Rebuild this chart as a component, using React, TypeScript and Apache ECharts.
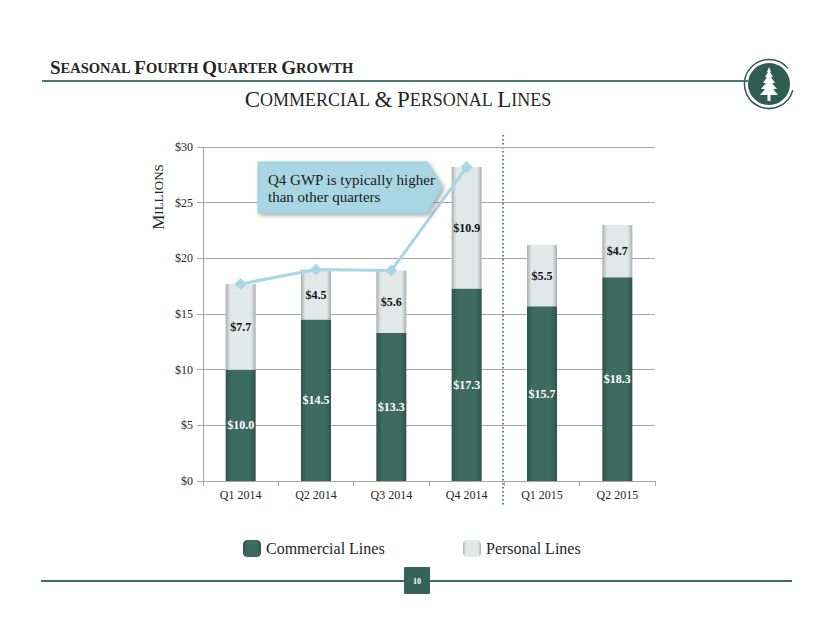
import React, { useEffect, useRef } from "react";
import * as echarts from "echarts";

const categories = ["Q1 2014", "Q2 2014", "Q3 2014", "Q4 2014", "Q1 2015", "Q2 2015"];
const commercialLines = [10.0, 14.5, 13.3, 17.3, 15.7, 18.3];
const personalLines = [7.7, 4.5, 5.6, 10.9, 5.5, 4.7];
const totalLine: (number | string)[] = [17.7, 19.0, 18.9, 28.2, "-", "-"];
const yTicks = { min: 0, max: 30, interval: 5 };

const SERIF = "'Liberation Serif', 'Times New Roman', serif";

function smallCaps(s: string) {
  return s
    .split(" ")
    .map((w) => `{b|${w[0]}}` + (w.length > 1 ? `{s|${w.slice(1)}}` : ""))
    .join("{s| }");
}

export default function App() {
  const ref = useRef<HTMLDivElement>(null);
  useEffect(() => {
    document.body.style.margin = "0";
    const chart = echarts.init(ref.current!, null, { renderer: "svg" });
    const cx = 769, cy = 84;
    const tree = [
      [0, -17], [2, -12], [1, -12], [4, -7], [2, -7], [6, -1], [3, -1], [8, 5], [4, 5], [9, 11],
      [1.5, 11], [1.5, 17], [-1.5, 17], [-1.5, 11], [-9, 11], [-4, 5], [-8, 5], [-3, -1], [-6, -1],
      [-2, -7], [-4, -7], [-1, -12], [-2, -12],
    ].map(([x, y]) => [cx + x, cy + y]);

    chart.setOption({
      animation: false,
      backgroundColor: "#ffffff",
      grid: { left: 203, right: 175, top: 147, bottom: 142, containLabel: false },
      legend: [
        {
          left: 238, top: 535, itemWidth: 18, itemHeight: 17, itemGap: 10,
          data: [{ name: "Commercial Lines", icon: "roundRect" }],
          textStyle: { fontFamily: SERIF, fontSize: 16, color: "#262626" },
          selectedMode: false,
        },
        {
          left: 458, top: 535, itemWidth: 18, itemHeight: 17,
          data: [{ name: "Personal Lines", icon: "roundRect" }],
          textStyle: { fontFamily: SERIF, fontSize: 16, color: "#262626" },
          selectedMode: false,
        },
      ],
      xAxis: {
        type: "category",
        data: categories,
        axisLine: { lineStyle: { color: "#a6a6a6" } },
        axisTick: { show: true, length: 5, lineStyle: { color: "#a6a6a6" } },
        axisLabel: { fontFamily: SERIF, fontSize: 12, color: "#262626", margin: 8 },
      },
      yAxis: {
        type: "value",
        min: yTicks.min,
        max: yTicks.max,
        interval: yTicks.interval,
        axisLine: { show: true, lineStyle: { color: "#a6a6a6" } },
        axisTick: { show: true, length: 6, lineStyle: { color: "#a6a6a6" } },
        splitLine: { lineStyle: { color: "#a6a6a6" } },
        axisLabel: { fontFamily: SERIF, fontSize: 12, color: "#262626", formatter: "${value}", margin: 10 },
      },
      series: [
        {
          name: "Commercial Lines",
          type: "bar",
          stack: "total",
          barWidth: 30,
          data: commercialLines,
          itemStyle: {
            color: new echarts.graphic.LinearGradient(0, 0, 1, 0, [
              { offset: 0, color: "#2c5549" },
              { offset: 0.2, color: "#3d6b5f" },
              { offset: 0.8, color: "#3d6b5f" },
              { offset: 1, color: "#2c5549" },
            ]),
          },
          label: {
            show: true,
            position: "inside",
            formatter: (p: any) => "$" + p.value.toFixed(1),
            fontFamily: SERIF,
            fontWeight: "bold",
            fontSize: 12,
            color: "#ffffff",
          },
        },
        {
          name: "Personal Lines",
          type: "bar",
          stack: "total",
          barWidth: 30,
          data: personalLines,
          itemStyle: {
            color: new echarts.graphic.LinearGradient(0, 0, 1, 0, [
              { offset: 0, color: "#a9afaf" },
              { offset: 0.15, color: "#e2e7e7" },
              { offset: 0.85, color: "#e2e7e7" },
              { offset: 1, color: "#a9afaf" },
            ]),
          },
          label: {
            show: true,
            position: "inside",
            formatter: (p: any) => "$" + p.value.toFixed(1),
            fontFamily: SERIF,
            fontWeight: "bold",
            fontSize: 12,
            color: "#111111",
          },
        },
        {
          name: "Total",
          type: "line",
          data: totalLine,
          symbol: "diamond",
          symbolSize: 12,
          lineStyle: { color: "#a8d6e4", width: 3 },
          itemStyle: { color: "#a8d6e4" },
          z: 5,
        },
      ],
      graphic: [
        {
          type: "text",
          x: 50,
          y: 67.5,
          style: {
            text: smallCaps("SEASONAL FOURTH QUARTER GROWTH"),
            align: "left",
            verticalAlign: "middle",
            rich: {
              b: { fontFamily: SERIF, fontSize: 19, fontWeight: "bold", fill: "#262626" },
              s: { fontFamily: SERIF, fontSize: 14.5, fontWeight: "bold", fill: "#262626" },
            },
          },
        },
        {
          type: "line",
          shape: { x1: 42, y1: 81, x2: 748, y2: 81 },
          style: { stroke: "#4b7a70", lineWidth: 2 },
        },
        {
          type: "text",
          x: 398,
          y: 99.5,
          style: {
            text: smallCaps("COMMERCIAL & PERSONAL LINES"),
            align: "center",
            verticalAlign: "middle",
            rich: {
              b: { fontFamily: SERIF, fontSize: 23, fill: "#262626" },
              s: { fontFamily: SERIF, fontSize: 18, fill: "#262626" },
            },
          },
        },
        {
          type: "text",
          x: 158,
          y: 197,
          rotation: Math.PI / 2,
          style: {
            text: smallCaps("MILLIONS"),
            align: "center",
            verticalAlign: "middle",
            rich: {
              b: { fontFamily: SERIF, fontSize: 17, fill: "#262626" },
              s: { fontFamily: SERIF, fontSize: 13, fill: "#262626" },
            },
          },
        },
        {
          type: "polygon",
          shape: { points: [[258, 162], [427, 162], [442, 187], [427, 213], [258, 213]] },
          style: {
            fill: "#a9d6e3",
            stroke: "#9cc9d6",
            lineWidth: 1,
            shadowBlur: 4,
            shadowOffsetX: 2,
            shadowOffsetY: 2,
            shadowColor: "rgba(0,0,0,0.35)",
          },
          z: 10,
        },
        {
          type: "text",
          x: 268,
          y: 171,
          style: {
            text: "Q4 GWP is typically higher\nthan other quarters",
            fontFamily: SERIF,
            fontSize: 15,
            lineHeight: 17,
            fill: "#1a1a1a",
          },
          z: 11,
        },
        {
          type: "line",
          shape: { x1: 503, y1: 135, x2: 503, y2: 505 },
          style: { stroke: "#2f5d50", lineWidth: 1.5, lineDash: [1.5, 2.5] },
        },
        {
          type: "circle",
          shape: { cx, cy, r: 21 },
          style: { fill: "#2f5d50" },
        },
        {
          type: "arc",
          shape: { cx, cy, r: 24.5, startAngle: 0.25, endAngle: Math.PI * 2 - 0.7, clockwise: true },
          style: { stroke: "#2f5d50", lineWidth: 1.5, fill: "none" },
        },
        {
          type: "polygon",
          shape: { points: tree },
          style: { fill: "#ffffff" },
        },
        {
          type: "line",
          shape: { x1: 41, y1: 581, x2: 792, y2: 581 },
          style: { stroke: "#3f6b62", lineWidth: 2 },
        },
        {
          type: "rect",
          shape: { x: 404, y: 567, width: 26, height: 27, r: 1 },
          style: { fill: "#33635a" },
        },
        {
          type: "text",
          x: 417,
          y: 581,
          style: {
            text: "10",
            align: "center",
            verticalAlign: "middle",
            fontFamily: SERIF,
            fontSize: 8,
            fontWeight: "bold",
            fill: "#ffffff",
          },
        },
      ],
      color: ["#3d6b5f", "#d9dfdf", "#a8d6e4"],
    });
    return () => chart.dispose();
  }, []);
  return <div ref={ref} style={{ width: 830, height: 623 }} />;
}
